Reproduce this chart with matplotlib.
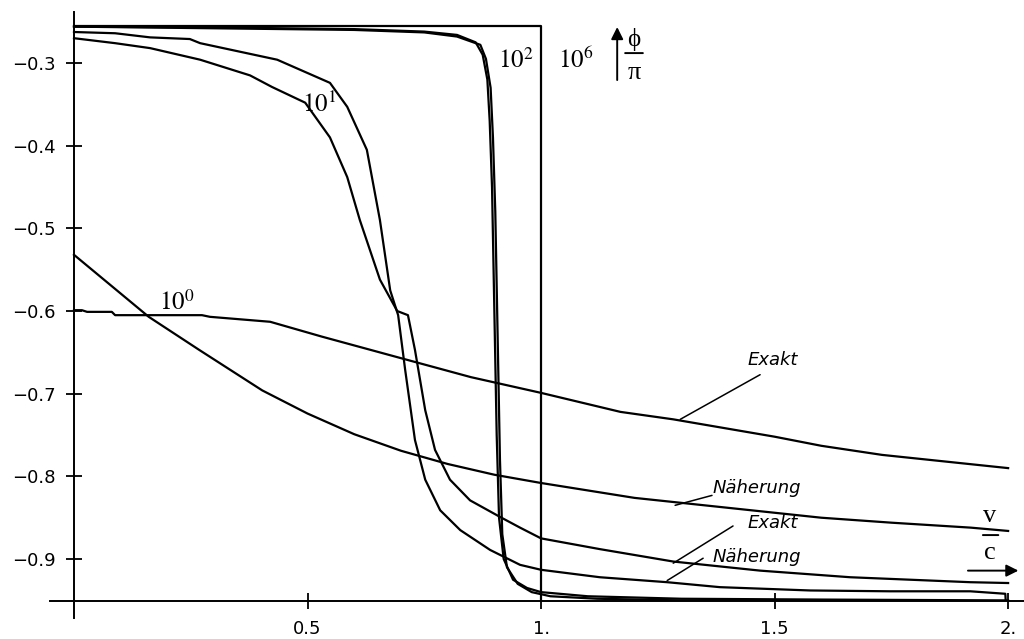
import matplotlib.pyplot as plt
from matplotlib.patches import Rectangle

plt.rcParams['mathtext.fontset'] = 'stix'

# 10^0, exact and approximation
x_e0 = [0, 0.017, 0.028, 0.081, 0.088, 0.274, 0.291, 0.42, 0.531, 0.7, 0.85, 1.0, 1.17, 1.283, 1.5, 1.6, 1.73, 2.0]
y_e0 = [-0.599, -0.599, -0.601, -0.601, -0.605, -0.605, -0.607, -0.613, -0.631, -0.657, -0.68, -0.699, -0.722, -0.731, -0.752, -0.763, -0.774, -0.79]
x_n0 = [0, 0.16, 0.268, 0.403, 0.5, 0.6, 0.7, 0.8, 0.9, 1.0, 1.2, 1.4, 1.6, 1.75, 1.92, 2.0]
y_n0 = [-0.532, -0.607, -0.647, -0.696, -0.724, -0.749, -0.769, -0.785, -0.798, -0.808, -0.826, -0.838, -0.85, -0.856, -0.862, -0.866]

# 10^1 (a: starts higher, b: starts lower, with the small step)
x_1a = [0, 0.088, 0.163, 0.248, 0.27, 0.435, 0.548, 0.585, 0.627, 0.655, 0.677, 0.694, 0.709, 0.73, 0.752,
        0.784, 0.827, 0.891, 0.955, 1.0, 1.126, 1.27, 1.383, 1.576, 1.747, 1.919, 1.994, 2.0]
y_1a = [-0.2625, -0.264, -0.269, -0.271, -0.276, -0.296, -0.324, -0.353, -0.405, -0.49, -0.575, -0.605, -0.671, -0.756, -0.804,
        -0.841, -0.865, -0.889, -0.907, -0.913, -0.922, -0.928, -0.934, -0.938, -0.939, -0.939, -0.942, -1.0]
x_1b = [0, 0.088, 0.163, 0.27, 0.377, 0.424, 0.495, 0.548, 0.585, 0.612, 0.655, 0.692, 0.715, 0.73, 0.752,
        0.773, 0.805, 0.848, 0.912, 0.955, 1.0, 1.126, 1.283, 1.469, 1.662, 1.919, 2.0]
y_1b = [-0.27, -0.276, -0.282, -0.296, -0.315, -0.329, -0.348, -0.39, -0.438, -0.49, -0.562, -0.6, -0.605, -0.647, -0.72,
        -0.768, -0.804, -0.829, -0.849, -0.862, -0.875, -0.888, -0.903, -0.914, -0.922, -0.928, -0.929]

# 10^2
x_2a = [0, 0.3, 0.6, 0.75, 0.82, 0.86, 0.875, 0.885, 0.89, 0.895, 0.9, 0.905, 0.91, 0.92, 0.94, 0.97, 1.0, 1.1, 1.3, 1.6, 2.0]
y_2a = [-0.256, -0.257, -0.259, -0.262, -0.266, -0.275, -0.29, -0.32, -0.37, -0.45, -0.6, -0.75, -0.85, -0.9, -0.925, -0.935, -0.94, -0.945, -0.948, -0.949, -0.95]
x_2b = [0, 0.3, 0.6, 0.75, 0.82, 0.87, 0.882, 0.892, 0.897, 0.902, 0.907, 0.912, 0.917, 0.927, 0.95, 0.98, 1.02, 1.12, 1.3, 1.6, 2.0]
y_2b = [-0.256, -0.258, -0.26, -0.263, -0.268, -0.278, -0.295, -0.33, -0.39, -0.48, -0.63, -0.78, -0.87, -0.91, -0.93, -0.94, -0.945, -0.948, -0.95, -0.951, -0.952]

# 10^6 (step)
x_s6 = [0, 1, 1, 2]
y_s6 = [-0.255, -0.255, -1.0, -1.0]

xticks = [0.5, 1, 1.5, 2]
xlabels = ['0.5', '1.', '1.5', '2.']
yticks = [-0.3, -0.4, -0.5, -0.6, -0.7, -0.8, -0.9]
ylabels = ['\u22120.3', '\u22120.4', '\u22120.5', '\u22120.6', '\u22120.7', '\u22120.8', '\u22120.9']

y_axis = -0.951

fig = plt.figure(figsize=(10.24, 6.39), dpi=100)
ax = fig.add_axes([50 / 1024, 21 / 639, 974 / 1024, 606 / 639])
ax.set_xlim(-0.0514, 2.034)
ax.set_ylim(-0.9713, -0.2383)

clip = Rectangle((-0.1, y_axis), 2.3, 1.0, transform=ax.transData, visible=False)
ax.add_patch(clip)

for xs, ys in [(x_e0, y_e0), (x_n0, y_n0), (x_1a, y_1a), (x_1b, y_1b),
               (x_2a, y_2a), (x_2b, y_2b), (x_s6, y_s6)]:
    ln, = ax.plot(xs, ys, color='black', lw=1.6)
    ln.set_clip_path(clip)

for s in ['top', 'right']:
    ax.spines[s].set_visible(False)
ax.spines['left'].set_position(('data', 0))
ax.spines['bottom'].set_position(('data', y_axis))
ax.spines['left'].set_linewidth(1.4)
ax.spines['bottom'].set_linewidth(1.4)

ax.set_xticks(xticks)
ax.set_xticklabels(xlabels)
ax.set_yticks(yticks)
ax.set_yticklabels(ylabels)
ax.tick_params(direction='inout', length=11, width=1.3, labelsize=13, pad=8)

ax.text(0.22, -0.59, r'$10^0$', fontsize=18, ha='center', va='center')
ax.text(0.525, -0.35, r'$10^1$', fontsize=18, ha='center', va='center')
ax.text(0.945, -0.297, r'$10^2$', fontsize=18, ha='center', va='center')
ax.text(1.075, -0.297, r'$10^6$', fontsize=18, ha='center', va='center')

serif = ['Liberation Serif', 'DejaVu Serif']
bar = dict(arrowstyle='-', color='black', lw=1.4, shrinkA=0, shrinkB=0)
head = dict(arrowstyle='-|>', color='black', lw=1.4, mutation_scale=18, shrinkA=0, shrinkB=0)

# phi / pi with upward arrow
ax.annotate('', xy=(1.163, -0.2565), xytext=(1.163, -0.3206), arrowprops=head)
ax.text(1.199, -0.271, '\u03d5', family=serif, fontsize=18, ha='center', va='center')
ax.annotate('', xy=(1.18, -0.288), xytext=(1.218, -0.288), arrowprops=bar)
ax.text(1.199, -0.312, '\u03c0', family=serif, fontsize=19, ha='center', va='center')

# v / c with right arrow
ax.text(1.961, -0.848, 'v', family=serif, fontsize=19, ha='center', va='center')
ax.annotate('', xy=(1.946, -0.871), xytext=(1.979, -0.871), arrowprops=bar)
ax.text(1.961, -0.893, 'c', family=serif, fontsize=19, ha='center', va='center')
ax.annotate('', xy=(2.022, -0.914), xytext=(1.914, -0.914), arrowprops=head)

# labels with pointer lines
lab = dict(fontsize=13, style='italic', ha='center', va='center')
ptr = dict(arrowstyle='-', color='black', lw=1.1, shrinkA=0, shrinkB=0)
ax.text(1.495, -0.659, 'Exakt', **lab)
ax.annotate('', xy=(1.298, -0.731), xytext=(1.469, -0.677), arrowprops=ptr)
ax.text(1.4625, -0.814, 'N\u00e4herung', **lab)
ax.annotate('', xy=(1.287, -0.835), xytext=(1.366, -0.823), arrowprops=ptr)
ax.text(1.495, -0.856, 'Exakt', **lab)
ax.annotate('', xy=(1.283, -0.905), xytext=(1.411, -0.860), arrowprops=ptr)
ax.text(1.4625, -0.898, 'N\u00e4herung', **lab)
ax.annotate('', xy=(1.27, -0.926), xytext=(1.347, -0.899), arrowprops=ptr)

fig.savefig('out.png', dpi=100)
